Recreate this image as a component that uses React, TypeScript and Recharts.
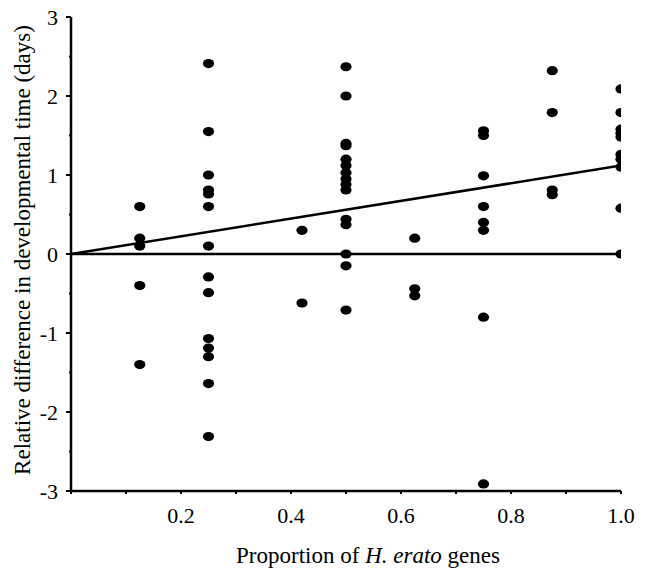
import React from 'react';
import { ScatterChart, Scatter, XAxis, YAxis, ReferenceLine, Label } from 'recharts';

// proportion of H. erato genes for each column of points
const col0125 = [0.6, 0.2, 0.1, -0.4, -1.4];
const col025 = [2.41, 1.55, 1.0, 0.81, 0.76, 0.6, 0.1, -0.29, -0.49, -1.07, -1.19, -1.3, -1.64, -2.31];
const col042 = [0.3, -0.62];
const col05 = [2.37, 2.0, 1.4, 1.37, 1.2, 1.12, 1.03, 0.95, 0.88, 0.81, 0.44, 0.37, 0, -0.15, -0.71];
const col0625 = [0.2, -0.44, -0.53];
const col075 = [1.56, 1.5, 0.99, 0.6, 0.4, 0.3, -0.8, -2.91];
const col0875 = [2.32, 1.79, 0.81, 0.75];
const col1 = [2.09, 1.79, 1.58, 1.53, 1.48, 1.26, 1.2, 1.1, 0.58, 0];

const columnX = [0.125, 0.25, 0.42, 0.5, 0.625, 0.75, 0.875, 1.0];
const columnY = [col0125, col025, col042, col05, col0625, col075, col0875, col1];

// regression line end points
const fitX = [0, 1.0];
const fitY = [0, 1.12];

const xTicks = [0, 0.1, 0.2, 0.3, 0.4, 0.5, 0.6, 0.7, 0.8, 0.9, 1.0];
const yTicks = [-3, -2.5, -2, -1.5, -1, -0.5, 0, 0.5, 1, 1.5, 2, 2.5, 3];

const points = columnX.flatMap((x, i) => columnY[i].map((y) => ({ x, y })));
const fitData = fitX.map((x, i) => ({ x, y: fitY[i] }));

const FONT = '"Liberation Serif", "Times New Roman", serif';

const Dot = (props: any) => {
  const { cx, cy } = props;
  return <ellipse cx={cx} cy={cy} rx={5.6} ry={4.6} fill="#000" />;
};

const YTick = ({ x, y, payload }: any) => {
  const v = payload.value;
  const major = Number.isInteger(v);
  return (
    <g>
      <line x1={x} x2={x - (major ? 5 : 2)} y1={y} y2={y} stroke="#000" strokeWidth={2} />
      {major && (
        <text x={x - 13} y={y} dy="0.35em" textAnchor="end" fontFamily={FONT} fontSize={22} fill="#000">
          {String(v)}
        </text>
      )}
    </g>
  );
};

const XTick = ({ x, y, payload }: any) => {
  const v = payload.value;
  const labelled = v > 0 && Math.round(v * 10) % 2 === 0;
  return (
    <g>
      <line x1={x} x2={x} y1={y} y2={y + 3} stroke="#000" strokeWidth={2} />
      {labelled && (
        <text x={x} y={y + 32} textAnchor="middle" fontFamily={FONT} fontSize={22} fill="#000">
          {v.toFixed(1)}
        </text>
      )}
    </g>
  );
};

export default function App() {
  return (
    <div style={{ position: 'absolute', left: 0, top: 0, background: '#fff' }}>
      <ScatterChart width={647} height={576} margin={{ top: 17, right: 26, bottom: 0, left: 0 }}>
        <XAxis
          type="number"
          dataKey="x"
          domain={[0, 1]}
          ticks={xTicks}
          interval={0}
          tick={<XTick />}
          tickLine={false}
          tickSize={0}
          tickMargin={0}
          height={85}
          axisLine={{ stroke: '#000', strokeWidth: 2.5 }}
          allowDataOverflow
        >
          <Label
            content={() => (
              <text x={368} y={563} textAnchor="middle" fontFamily={FONT} fontSize={23} fill="#000">
                Proportion of <tspan fontStyle="italic">H. erato</tspan> genes
              </text>
            )}
          />
        </XAxis>
        <YAxis
          type="number"
          dataKey="y"
          domain={[-3, 3]}
          ticks={yTicks}
          interval={0}
          tick={<YTick />}
          tickLine={false}
          tickSize={0}
          tickMargin={0}
          width={71}
          axisLine={{ stroke: '#000', strokeWidth: 2.5 }}
          allowDataOverflow
        >
          <Label
            content={() => (
              <text
                x={30}
                y={250}
                transform="rotate(-90 30 250)"
                textAnchor="middle"
                fontFamily={FONT}
                fontSize={23}
                fill="#000"
              >
                Relative difference in developmental time (days)
              </text>
            )}
          />
        </YAxis>
        <ReferenceLine y={0} stroke="#000" strokeWidth={2.5} />
        <Scatter
          data={fitData}
          line={{ stroke: '#000', strokeWidth: 2.5 }}
          shape={() => <g />}
          isAnimationActive={false}
        />
        <Scatter data={points} shape={<Dot />} isAnimationActive={false} />
      </ScatterChart>
    </div>
  );
}
